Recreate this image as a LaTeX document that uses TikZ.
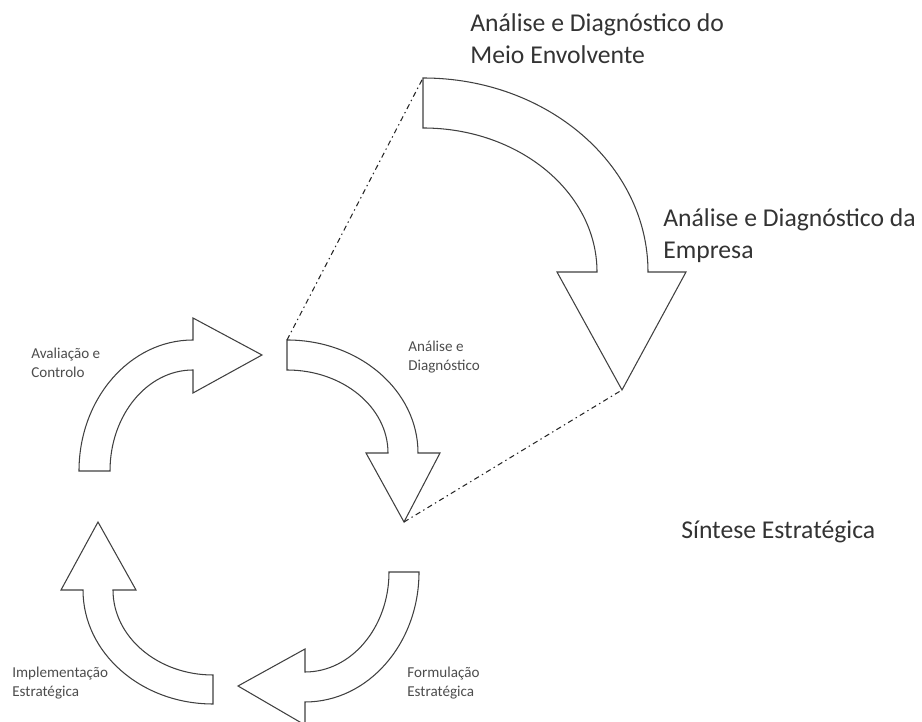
\documentclass[tikz,border=0pt]{standalone}
\usepackage{fontspec}
\setmainfont{Carlito}
\usetikzlibrary{calc}

\begin{document}
\begin{tikzpicture}[x=0.02cm,y=0.02cm,
  seta/.style={draw=black!75,line width=0.6pt,line join=miter,fill=white},
  tracejado/.style={draw=black!85,line width=0.6pt,dash pattern=on 3pt off 2pt on 0.8pt off 2pt},
  grande/.style={inner sep=0pt,anchor=west,align=left,text=black!80,font=\fontsize{14.6}{18.1}\selectfont},
  pequeno/.style={inner sep=0pt,anchor=west,align=left,text=black!70,font=\fontsize{8.6}{10.8}\selectfont}]
\clip(0,0)rectangle(922,722);

%seta grande
\draw[seta](423,644)arc[start angle=90,end angle=0,x radius=225,y radius=194]--(686,450)--(622,332)--(557,450)--(597,450)arc[start angle=0,end angle=90,x radius=174,y radius=144]--cycle;
\coordinate(grandeTopo)at(423,644); %canto da cauda
\coordinate(grandePonta)at(622,332); %ponta

%ciclo pequeno
\draw[seta](287,382)arc[start angle=90,end angle=0,x radius=131,y radius=113]--(440,269)--(404,200)--(366,269)--(388,269)arc[start angle=0,end angle=90,x radius=101,y radius=83]--cycle; %analise
\draw[seta](419,150)arc[start angle=0,end angle=-90,x radius=114,y radius=130]--(305,-3)--(238,36)--(305,73)--(305,50)arc[start angle=-90,end angle=0,x radius=84,y radius=100]--cycle; %formulacao
\draw[seta](213,18)arc[start angle=-90,end angle=-180,x radius=130,y radius=114]--(61,132)--(98,200)--(136,132)--(113,132)arc[start angle=-180,end angle=-90,x radius=100,y radius=85]--cycle; %implementacao
\draw[seta](79,251)arc[start angle=180,end angle=90,x radius=114,y radius=131]--(193,404)--(262,367)--(193,329)--(193,352)arc[start angle=90,end angle=180,x radius=83,y radius=101]--cycle; %avaliacao
\coordinate(analiseTopo)at(287,382); %canto da cauda
\coordinate(analisePonta)at(404,200); %ponta

%linhas de ligacao
\draw[tracejado](analiseTopo)--(grandeTopo);
\draw[tracejado](analisePonta)--(grandePonta);

%textos
\node[grande](meio)at(470,683){Análise e Diagnóstico do\\Meio Envolvente};
\node[grande](empresa)at(663,486.5){Análise e Diagnóstico da\\Empresa};
\node[grande](sintese)at(681,190){Síntese Estratégica};
\node[pequeno](avaliacao)at(31,359.5){Avaliação e\\Controlo};
\node[pequeno](analise)at(408,364.5){Análise e\\Diagnóstico};
\node[pequeno](implementacao)at(12,39){Implementação\\Estratégica};
\node[pequeno](formulacao)at(407,39){Formulação\\Estratégica};
\end{tikzpicture}
\end{document}
